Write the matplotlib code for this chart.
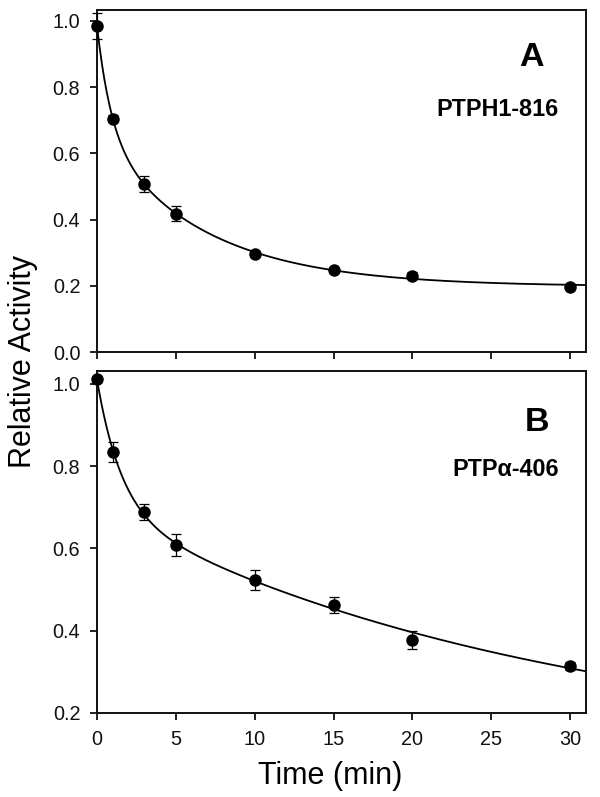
import numpy as np
import matplotlib
matplotlib.use("Agg")
import matplotlib.pyplot as plt

plt.rcParams['font.family'] = ['Liberation Sans', 'DejaVu Sans']

# ---- data ----
time_min = [0, 1, 3, 5, 10, 15, 20, 30]
act_A = [0.985, 0.705, 0.508, 0.418, 0.296, 0.247, 0.231, 0.197]
err_A = [0.040, 0.010, 0.025, 0.022, 0.008, 0.008, 0.010, 0.008]
act_B = [1.012, 0.835, 0.688, 0.608, 0.523, 0.463, 0.377, 0.315]
err_B = [0.008, 0.024, 0.020, 0.026, 0.025, 0.020, 0.022, 0.010]
plateau_A = None   # fitted freely
plateau_B = 0.10   # asymptote of the drawn fit
x_ticks = [0, 5, 10, 15, 20, 25, 30]
yticks_A = [0.0, 0.2, 0.4, 0.6, 0.8, 1.0]
yticks_B = [0.2, 0.4, 0.6, 0.8, 1.0]
label_A = ("A", "PTPH1-816")
label_B = ("B", "PTP\u03b1-406")


def fit_curve(t, y, tt, plateau=None):
    """Two-exponential least-squares fit (grid over rates, linear for amplitudes)."""
    t = np.asarray(t, float); y = np.asarray(y, float)
    best = None
    for k1 in np.linspace(0.2, 3.0, 57):
        for k2 in np.linspace(0.005, 0.3, 60):
            if k2 >= k1:
                continue
            if plateau is None:
                M = np.column_stack([np.exp(-k1 * t), np.exp(-k2 * t), np.ones_like(t)])
                yy = y
            else:
                M = np.column_stack([np.exp(-k1 * t), np.exp(-k2 * t)])
                yy = y - plateau
            coef, *_ = np.linalg.lstsq(M, yy, rcond=None)
            r = np.sum((M @ coef - yy) ** 2)
            if best is None or r < best[0]:
                best = (r, k1, k2, coef)
    _, k1, k2, c = best
    base = c[2] if plateau is None else plateau
    return c[0] * np.exp(-k1 * tt) + c[1] * np.exp(-k2 * tt) + base


W, H = 600, 797
fig = plt.figure(figsize=(W / 100, H / 100), dpi=100)
axA = fig.add_axes([97 / W, 1 - 352 / H, (586 - 97) / W, (352 - 10) / H])
axB = fig.add_axes([97 / W, 1 - 713 / H, (586 - 97) / W, (713 - 370.7) / H])

tt = np.linspace(0, 31, 400)
tick_fs = 14.3
for ax, y, e, yt, ylim, pl in [
    (axA, act_A, err_A, yticks_A, (0.0, 1.033), plateau_A),
    (axB, act_B, err_B, yticks_B, (0.2, 1.032), plateau_B),
]:
    ax.plot(tt, fit_curve(time_min, y, tt, pl), color='black', lw=1.3, zorder=2)
    ax.errorbar(time_min, y, yerr=e, fmt='o', color='black', ms=8,
                ecolor='black', elinewidth=0.9, capsize=3.8, capthick=0.9,
                zorder=3, clip_on=False)
    ax.set_xlim(0, 31)
    ax.set_ylim(*ylim)
    ax.set_xticks(x_ticks)
    ax.set_yticks(yt)
    ax.set_yticklabels([f"{v:.1f}" for v in yt])
    ax.tick_params(direction='out', length=5, width=1.3, labelsize=tick_fs,
                   colors='#111111', pad=7)
    ax.tick_params(top=False, right=False)
    for s in ax.spines.values():
        s.set_linewidth(1.4)
        s.set_color('#111111')

axA.tick_params(labelbottom=False)

axA.text(531 / W, 1 - 58 / H, label_A[0], transform=fig.transFigure, fontsize=24.5,
         fontweight='bold', ha='center', va='center')
axA.text(559 / W, 1 - 109.5 / H, label_A[1], transform=fig.transFigure, fontsize=16.8,
         fontweight='bold', ha='right', va='center')
axB.text(537 / W, 1 - 422 / H, label_B[0], transform=fig.transFigure, fontsize=24.5,
         fontweight='bold', ha='center', va='center')
axB.text(559 / W, 1 - 470 / H, label_B[1], transform=fig.transFigure, fontsize=16.8,
         fontweight='bold', ha='right', va='center')

fig.text(330 / W, 1 - 776 / H, "Time (min)", fontsize=22, ha='center', va='center')
fig.text(23.5 / W, 1 - 361.5 / H, "Relative Activity", fontsize=22, rotation=90,
         ha='center', va='center')

fig.savefig("out.png", dpi=100)
